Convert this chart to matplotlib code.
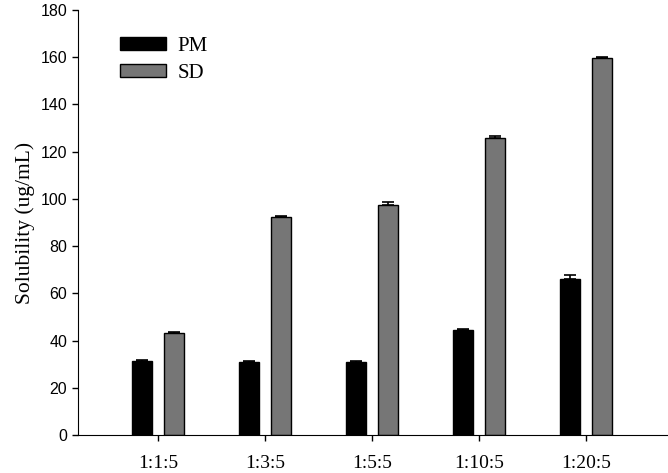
import numpy as np
import matplotlib
matplotlib.use('Agg')
import matplotlib.pyplot as plt

categories = ['1:1:5', '1:3:5', '1:5:5', '1:10:5', '1:20:5']
pm = [31.5, 31.0, 31.0, 44.5, 66.0]
pm_err = [0.5, 0.3, 0.3, 0.3, 2.0]
sd = [43.3, 92.3, 97.5, 126.0, 159.8]
sd_err = [0.3, 0.5, 1.0, 0.5, 0.3]

serif = ['Liberation Serif', 'DejaVu Serif']
sans = ['Liberation Sans', 'DejaVu Sans']

fig = plt.figure(figsize=(6.68, 4.73), dpi=100)
ax = fig.add_axes([0.117, 0.080, 0.883, 0.899])

x = np.arange(1, len(categories) + 1)
w = 0.19
off = 0.15
ax.bar(x - off, pm, w, color='black', edgecolor='black', linewidth=1.0, label='PM',
       yerr=[np.zeros(5), pm_err], error_kw=dict(ecolor='black', capsize=4, elinewidth=1.2, capthick=1.2))
ax.bar(x + off, sd, w, color='#767676', edgecolor='black', linewidth=1.0, label='SD',
       yerr=[np.zeros(5), sd_err], error_kw=dict(ecolor='black', capsize=4, elinewidth=1.2, capthick=1.2))

ax.set_xlim(0.25, 5.77)
ax.set_ylim(0, 180)
ax.set_yticks(np.arange(0, 181, 20))
ax.set_xticks(x)
ax.set_xticklabels(categories, family=serif, fontsize=14)
for t in ax.get_yticklabels():
    t.set_family(sans)
    t.set_fontsize(11.5)
ax.set_ylabel('Solubility (ug/mL)', family=serif, fontsize=15.5, labelpad=4)

ax.spines['top'].set_visible(False)
ax.spines['right'].set_visible(False)
ax.tick_params(direction='out', length=4.5, width=1)
ax.tick_params(axis='x', pad=10)

ax.legend(loc='upper left', bbox_to_anchor=(0.071, 0.936), frameon=False,
          borderaxespad=0, borderpad=0,
          prop={'family': serif, 'size': 15}, handlelength=2.2, handleheight=0.6,
          labelspacing=0.38, handletextpad=0.55)

fig.savefig('out.png', dpi=100)
